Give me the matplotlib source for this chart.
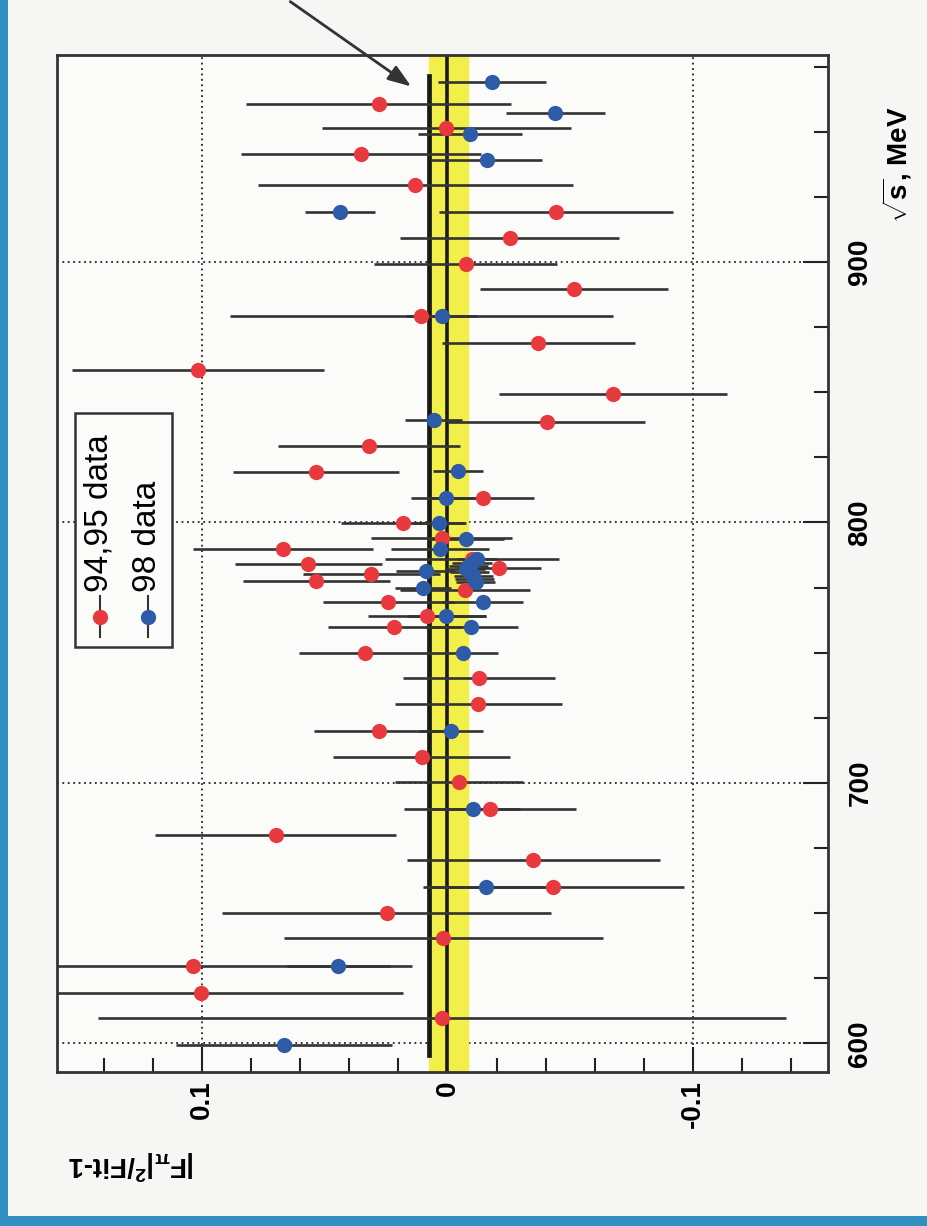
import matplotlib
matplotlib.use("Agg")
import matplotlib.pyplot as plt
from matplotlib.patches import Rectangle
from matplotlib.ticker import MultipleLocator, FixedLocator

# 94,95 data: sqrt(s) [MeV], |F|^2/Fit-1, error
red_s = [960.5, 951.6, 941.3, 929.6, 919.3, 909.3, 899.3, 889.6, 879.4, 869.1,
         858.7, 849.2, 838.7, 829.5, 819.3, 809.5, 799.9, 794.2, 789.7, 786.0,
         784.1, 782.4, 780.1, 777.7, 774.1, 769.6, 763.9, 759.8, 749.8, 740.1,
         730.2, 720.1, 710.1, 700.3, 690.0, 680.0, 670.4, 660.0, 650.0, 640.4,
         629.8, 619.5, 609.9]
red_v = [0.028, 0.0004, 0.0352, 0.013, -0.0442, -0.0254, -0.0074, -0.0516, 0.0106, -0.037,
         0.1014, -0.0674, -0.0404, 0.032, 0.0536, -0.0144, 0.018, 0.0024, 0.067, -0.010,
         0.0566, -0.021, 0.031, 0.0534, -0.0072, 0.024, 0.0084, 0.0216, 0.0334, -0.0128,
         -0.0126, 0.028, 0.0104, -0.0046, -0.0172, 0.070, -0.035, -0.0432, 0.0248, 0.0016,
         0.1036, 0.1002, 0.0022]
red_e = [0.054, 0.0507, 0.049, 0.064, 0.0476, 0.0446, 0.0373, 0.0383, 0.078, 0.0394,
         0.0513, 0.0464, 0.040, 0.037, 0.0337, 0.021, 0.0253, 0.0286, 0.0366, 0.0355,
         0.030, 0.017, 0.028, 0.030, 0.0266, 0.0266, 0.024, 0.027, 0.027, 0.031,
         0.034, 0.0264, 0.036, 0.026, 0.035, 0.049, 0.0515, 0.053, 0.067, 0.065,
         0.089, 0.082, 0.140]

# 98 data
blue_s = [969.2, 957.3, 949.3, 939.3, 919.3, 879.4, 839.3, 819.7, 809.5, 799.8,
          793.7, 789.7, 786.0, 784.6, 783.2, 782.0, 780.8, 779.6, 778.4, 777.2,
          781.4, 774.7, 769.6, 763.9, 759.8, 749.8, 720.1, 690.0, 660.0, 629.8,
          599.4]
blue_v = [-0.0182, -0.044, -0.0092, -0.016, 0.0436, 0.0024, 0.0056, -0.0042, 0.0006, 0.0034,
          -0.0076, 0.003, -0.0120, -0.0100, -0.0085, -0.0075, -0.0090, -0.0105, -0.0110, -0.0115,
          0.0088, 0.0098, -0.0144, 0.0004, -0.0098, -0.0064, -0.0016, -0.0106, -0.0156, 0.0444,
          0.0666]
blue_e = [0.022, 0.0202, 0.021, 0.0225, 0.0143, 0.0143, 0.0115, 0.0102, 0.0142, 0.011,
          0.0155, 0.0198, 0.008, 0.008, 0.008, 0.008, 0.008, 0.008, 0.008, 0.008,
          0.012, 0.0114, 0.0164, 0.016, 0.019, 0.014, 0.013, 0.019, 0.024, 0.021,
          0.044]

fit_value = 0.0077
fit_s_range = [595.5, 971.5]
band = [-0.0083, 0.0077]

RED = "#e8393f"
BLUE = "#2d5ba8"
FONT = ["Liberation Sans", "DejaVu Sans"]

plt.rcParams["mathtext.fontset"] = "custom"
plt.rcParams["mathtext.rm"] = "Liberation Sans:bold"
plt.rcParams["mathtext.it"] = "Liberation Sans:bold"
plt.rcParams["mathtext.bf"] = "Liberation Sans:bold"

fig = plt.figure(figsize=(9.28, 12.26), dpi=100, facecolor="#f6f6f4")
W, H = 928, 1226
ax = fig.add_axes([57 / W, 1 - 1072 / H, (828 - 57) / W, (1072 - 55) / H])
ax.set_facecolor("#fbfbfa")

ax.axvspan(band[0], band[1], color="#f3ef4a", zorder=1)
ax.axvline(0, color="#1a1a1a", lw=2.6, zorder=2)
ax.plot([fit_value, fit_value], fit_s_range, color="#1a1a1a", lw=3.4, zorder=2)

eb = dict(fmt="o", ms=11, mew=0, ecolor="#333333", elinewidth=1.9,
          capsize=3.8, capthick=2.0, zorder=3)
ax.errorbar(red_v, red_s, xerr=red_e, color=RED, **eb)
ax.errorbar(blue_v, blue_s, xerr=blue_e, color=BLUE, **eb)

ax.set_xlim(0.159, -0.155)
ax.set_ylim(589, 979.5)

ax.xaxis.set_major_locator(FixedLocator([0.1, 0, -0.1]))
ax.xaxis.set_minor_locator(MultipleLocator(0.02))
ax.set_xticklabels(["0.1", "0", "-0.1"])
ax.yaxis.tick_right()
ax.yaxis.set_major_locator(FixedLocator([600, 700, 800, 900]))
ax.yaxis.set_minor_locator(MultipleLocator(25))
ax.tick_params(which="both", direction="in", width=1.5, color="#222222")
ax.tick_params(which="major", length=18)
ax.tick_params(which="minor", length=10)
ax.tick_params(axis="x", pad=6, labelrotation=90)
ax.tick_params(axis="y", pad=14, labelrotation=90)
for lab in ax.get_xticklabels() + ax.get_yticklabels():
    lab.set_family(FONT)
    lab.set_fontweight("bold")
    lab.set_fontsize(20)
for lab in ax.get_yticklabels():
    lab.set_verticalalignment("center")

ax.grid(True, which="major", color="#222222", ls=(0, (1, 2)), lw=1.3)
ax.set_axisbelow(True)
for sp in ax.spines.values():
    sp.set_linewidth(2)
    sp.set_color("#333333")

# legend box (rotated like the rest of the figure)
ax.add_patch(Rectangle((0.0233, 0.418), 0.1257, 0.23, transform=ax.transAxes,
                       fill=True, facecolor="#fbfbfa", edgecolor="#333333", lw=1.8, zorder=5))
for xm, col, txt in [(0.0558, RED, "94,95 data"), (0.118, BLUE, "98 data")]:
    ax.plot([xm, xm], [0.428, 0.468], transform=ax.transAxes, color="#333333", lw=1.5, zorder=6)
    ax.plot([xm], [0.4474], "o", ms=11, mew=0, color=col, transform=ax.transAxes, zorder=7)
    ax.text(xm - 0.001, 0.472, txt, transform=ax.transAxes, rotation=90, ha="center",
            va="bottom", fontsize=24, family=FONT, zorder=7)

fig.text(897 / W, 1 - 165 / H, r"$\sqrt{s}$, MeV", rotation=90, ha="center", va="center",
         fontsize=20, fontweight="bold", family=FONT)
fig.text(131 / W, 1 - 1165 / H, r"$|F_\pi|^2$/Fit-1", rotation=180, ha="center", va="center",
         fontsize=20, fontweight="bold", family=FONT)

ax.annotate("", xy=(0.0138, 966.8), xycoords="data", xytext=(288 / W, 1.0),
            textcoords="figure fraction", annotation_clip=False,
            arrowprops=dict(arrowstyle="-|>,head_length=1.4,head_width=0.5",
                            color="#333333", lw=2))

# blue scan border
fig.add_artist(Rectangle((0, 0), 8 / W, 1, transform=fig.transFigure, color="#2f8fbf", lw=0))
fig.add_artist(Rectangle((0, 0), 1, 10 / H, transform=fig.transFigure, color="#2f8fbf", lw=0))

fig.savefig("out.png", dpi=100, facecolor=fig.get_facecolor())
